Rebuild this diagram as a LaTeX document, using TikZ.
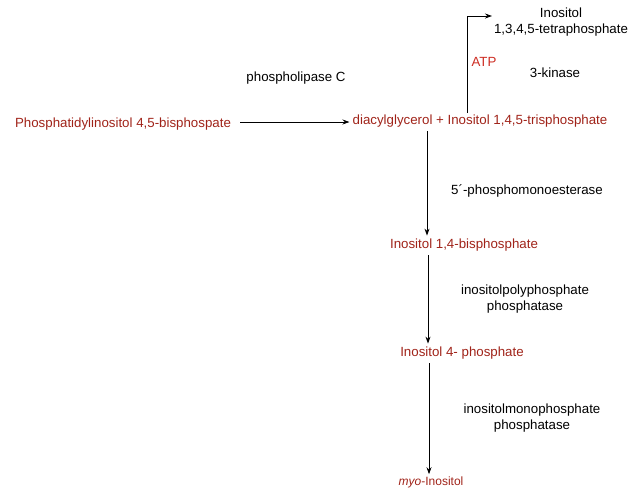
\documentclass[tikz,border=0pt]{standalone}
\usepackage{fontspec}
\setmainfont{Liberation Sans}
\usetikzlibrary{arrows.meta}
\definecolor{chem}{RGB}{160,35,25}
\definecolor{atp}{RGB}{205,45,35}
\begin{document}
\begin{tikzpicture}[x=1pt,y=-1pt,
  every node/.style={font=\fontsize{13.3}{15.5}\selectfont, inner sep=1pt},
  chem/.style={text=chem},
  enz/.style={text=black, align=center},
  arr/.style={-{Stealth[length=7pt,width=5pt]}, line width=0.85pt}]
\useasboundingbox (0,0) rectangle (628,493);
\node[chem] (pip2) at (123,124) {Phosphatidylinositol 4,5-bisphospate};
\node[chem] (dag) at (480,121) {diacylglycerol + Inositol 1,4,5-trisphosphate};
\node[enz] (plc) at (296,78) {phospholipase C};
\node[enz] (tetra) at (561,22) {Inositol\\1,3,4,5-tetraphosphate};
\node[text=atp] (atp) at (484,62) {ATP};
\node[enz] (kin) at (555,73) {3-kinase};
\node[enz] (pme) at (527,191) {5´-phosphomonoesterase};
\node[chem] (ip2) at (464,245) {Inositol 1,4-bisphosphate};
\node[enz] (ipp) at (525,299) {inositolpolyphosphate\\phosphatase};
\node[chem] (ip1) at (462,353) {Inositol 4- phosphate};
\node[enz] (imp) at (532,418) {inositolmonophosphate\\phosphatase};
\node[chem, font=\fontsize{12}{14}\selectfont] (myo) at (431,482) {\textit{myo}-Inositol};
\coordinate (a0) at (240,122);
\coordinate (a1) at (467,113);
\coordinate (a2) at (467,16);
\coordinate (a3) at (492,16);
\coordinate (x1) at (427,0);
\coordinate (x2) at (428,0);
\coordinate (x3) at (429,0);
\draw[arr] (a0) -- ([xshift=-2pt]a0 -| dag.west);
\draw[arr] (a1) -- (a2) -- (a3);
\draw[arr] ([yshift=-3pt]dag.south -| x1) -- ([yshift=2pt]ip2.north -| x1);
\draw[arr] ([yshift=-3pt]ip2.south -| x2) -- ([yshift=2pt]ip1.north -| x2);
\draw[arr] ([yshift=-3pt]ip1.south -| x3) -- ([yshift=1pt]myo.north -| x3);
\end{tikzpicture}
\end{document}
